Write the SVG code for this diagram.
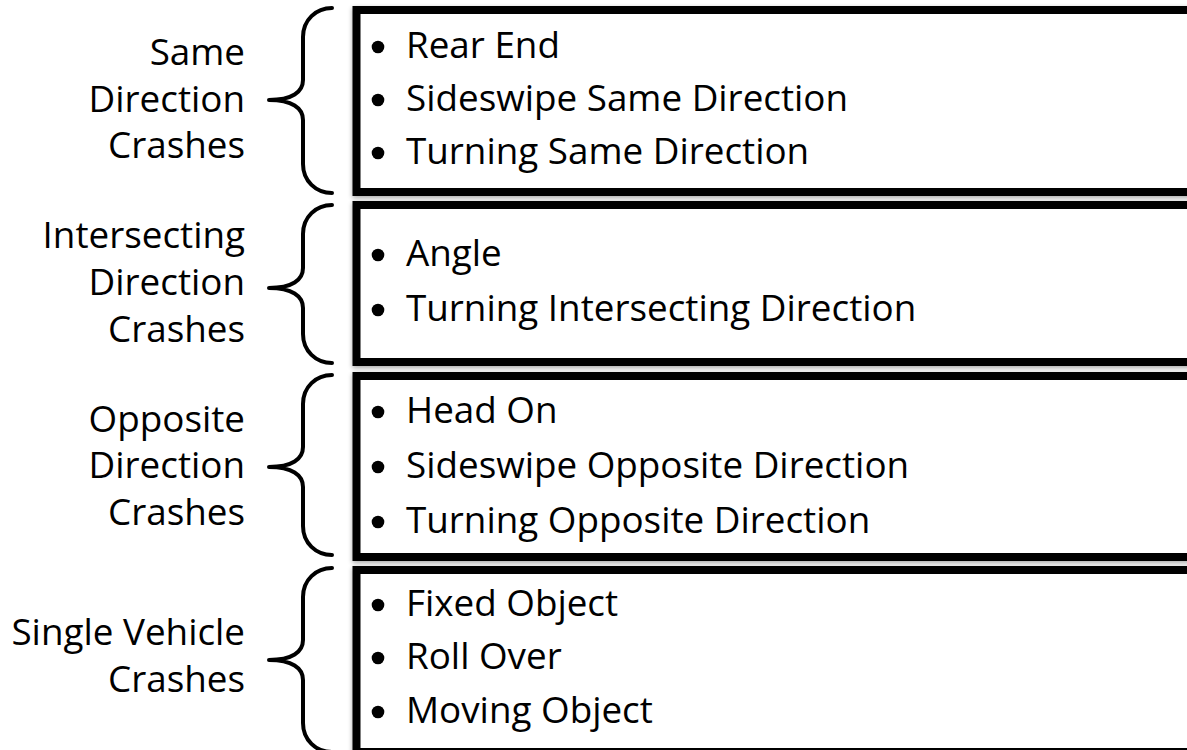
<svg xmlns="http://www.w3.org/2000/svg" width="1187" height="750" viewBox="0 0 1187 750">
  <style>
    text { font-family: "Open Sans", "Noto Sans", "Liberation Sans", sans-serif; font-size: 36.8px; fill: #000; }
    .label { text-anchor: end; }
    .box { fill: #fff; stroke: #000; stroke-width: 8; filter: url(#shadow); }
    .brace { fill: none; stroke: #000; stroke-width: 4; stroke-linecap: round; stroke-linejoin: round; }
    .dot { fill: #000; }
  </style>
  <defs>
    <filter id="shadow" x="-5%" y="-10%" width="110%" height="120%">
      <feGaussianBlur in="SourceAlpha" stdDeviation="2.5"/>
      <feOffset dx="0" dy="2" result="blur"/>
      <feComponentTransfer><feFuncA type="linear" slope="0.35"/></feComponentTransfer>
      <feMerge><feMergeNode/><feMergeNode in="SourceGraphic"/></feMerge>
    </filter>
  </defs>
  <rect width="1187" height="750" fill="#fff"/>

  <!-- Same direction -->
  <g id="same-direction">
    <text class="label" x="245" y="65">Same</text>
    <text class="label" x="245" y="112">Direction</text>
    <text class="label" x="245" y="158">Crashes</text>
    <path class="brace" d="M332 8 C316 8 303 20 303 37 L303 80 C303 92 292 100 269 100 C292 100 303 108 303 120 L303 164 C303 181 316 193 332 193"/>
    <rect class="box" x="356.5" y="10" width="840" height="182"/>
    <circle class="dot" cx="378" cy="47" r="6.3"/>
    <text x="406" y="58">Rear End</text>
    <circle class="dot" cx="378" cy="100" r="6.3"/>
    <text x="406" y="111">Sideswipe Same Direction</text>
    <circle class="dot" cx="378" cy="153" r="6.3"/>
    <text x="406" y="164">Turning Same Direction</text>
  </g>

  <!-- Intersecting direction -->
  <g id="intersecting-direction">
    <text class="label" x="245" y="248">Intersecting</text>
    <text class="label" x="245" y="295">Direction</text>
    <text class="label" x="245" y="342">Crashes</text>
    <path class="brace" d="M332 205 C316 205 303 217 303 234 L303 268 C303 280 292 288 269 288 C292 288 303 296 303 308 L303 334 C303 351 316 363 332 363"/>
    <rect class="box" x="356.5" y="205" width="840" height="157"/>
    <circle class="dot" cx="378" cy="255" r="6.3"/>
    <text x="406" y="266">Angle</text>
    <circle class="dot" cx="378" cy="310" r="6.3"/>
    <text x="406" y="321">Turning Intersecting Direction</text>
  </g>

  <!-- Opposite direction -->
  <g id="opposite-direction">
    <text class="label" x="245" y="432">Opposite</text>
    <text class="label" x="245" y="478">Direction</text>
    <text class="label" x="245" y="525">Crashes</text>
    <path class="brace" d="M332 375 C316 375 303 387 303 404 L303 447 C303 459 292 467 269 467 C292 467 303 475 303 487 L303 526 C303 543 316 555 332 555"/>
    <rect class="box" x="356.5" y="376" width="840" height="181"/>
    <circle class="dot" cx="378" cy="412" r="6.3"/>
    <text x="406" y="423">Head On</text>
    <circle class="dot" cx="378" cy="467" r="6.3"/>
    <text x="406" y="478">Sideswipe Opposite Direction</text>
    <circle class="dot" cx="378" cy="522" r="6.3"/>
    <text x="406" y="533">Turning Opposite Direction</text>
  </g>

  <!-- Single vehicle -->
  <g id="single-vehicle">
    <text class="label" x="245" y="645">Single Vehicle</text>
    <text class="label" x="245" y="692">Crashes</text>
    <path class="brace" d="M332 568 C316 568 303 580 303 597 L303 640 C303 652 292 660 269 660 C292 660 303 668 303 680 L303 723 C303 740 316 752 332 752"/>
    <rect class="box" x="356.5" y="570" width="840" height="182"/>
    <circle class="dot" cx="378" cy="605" r="6.3"/>
    <text x="406" y="616">Fixed Object</text>
    <circle class="dot" cx="378" cy="658" r="6.3"/>
    <text x="406" y="669">Roll Over</text>
    <circle class="dot" cx="378" cy="712" r="6.3"/>
    <text x="406" y="723">Moving Object</text>
  </g>
</svg>
